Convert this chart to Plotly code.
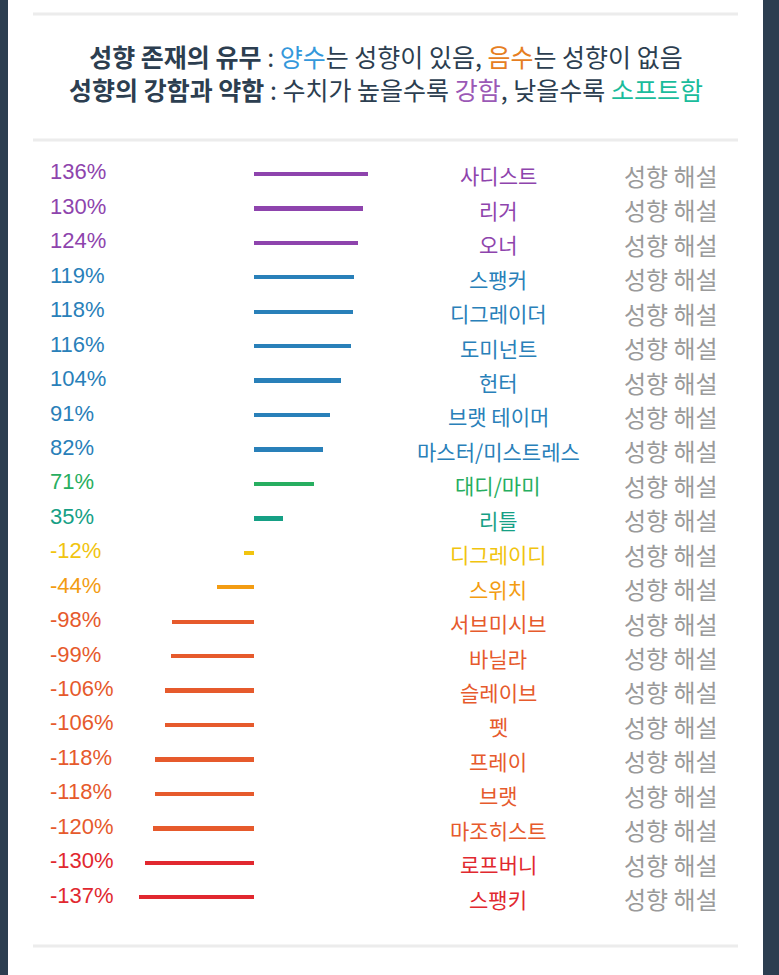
import plotly.graph_objects as go

# ---- data ----
categories = ["사디스트", "리거", "오너", "스팽커", "디그레이더", "도미넌트", "헌터",
              "브랫 테이머", "마스터/미스트레스", "대디/마미", "리틀", "디그레이디", "스위치",
              "서브미시브", "바닐라", "슬레이브", "펫", "프레이", "브랫", "마조히스트",
              "로프버니", "스팽키"]
values = [136, 130, 124, 119, 118, 116, 104, 91, 82, 71, 35, -12, -44,
          -98, -99, -106, -106, -118, -118, -120, -130, -137]
link_label = "성향 해설"

# ---- styles ----
PURPLE = "#8e44ad"; BLUE = "#2980b9"; GREEN = "#27ae60"; TEAL = "#16a085"
YELLOW = "#f1c40f"; ORANGE = "#f39c12"; RORANGE = "#e65a2c"; RED = "#e1282f"
row_colors = [PURPLE] * 3 + [BLUE] * 6 + [GREEN, TEAL, YELLOW, ORANGE] + [RORANGE] * 7 + [RED] * 2

W, H = 779, 975
DARK = "#2c3e50"
KFONT = "Noto Sans CJK KR"

n = len(categories)
ypos = list(range(n))

fig = go.Figure()
fig.add_trace(go.Bar(
    x=values, y=ypos, orientation="h",
    marker=dict(color=row_colors, line=dict(width=0)),
    width=0.125, hoverinfo="skip", showlegend=False,
))

annotations = []
for i, (c, v, col) in enumerate(zip(categories, values, row_colors)):
    annotations.append(dict(
        x=48 / W, xref="paper", y=i - 0.06, yref="y", text=f"{v}%",
        showarrow=False, xanchor="left", yanchor="middle",
        font=dict(family="Liberation Sans, Arial", size=22, color=col)))
    annotations.append(dict(
        x=498 / W, xref="paper", y=i + 0.04, yref="y", text=c,
        showarrow=False, xanchor="center", yanchor="middle",
        font=dict(family=KFONT, size=21, color=col)))
    annotations.append(dict(
        x=671 / W, xref="paper", y=i + 0.04, yref="y", text=link_label,
        showarrow=False, xanchor="center", yanchor="middle",
        font=dict(family=KFONT, size=24, color="#9a9a9a")))

title = ("<b>성향 존재의 유무</b> : <span style='color:#3498db'>양수</span>는 성향이 있음, "
         "<span style='color:#e67e22'>음수</span>는 성향이 없음<br>"
         "<b>성향의 강함과 약함</b> : 수치가 높을수록 <span style='color:#9b59b6'>강함</span>, "
         "낮을수록 <span style='color:#1abc9c'>소프트함</span>")
annotations.append(dict(
    x=386 / W, xref="paper", y=1 - 72 / H, yref="paper", text=title,
    showarrow=False, xanchor="center", yanchor="middle", align="center",
    font=dict(family=KFONT, size=25, color="#2c3e50")))

shapes = [dict(type="rect", xref="paper", yref="paper", x0=8 / W, x1=763 / W, y0=0, y1=1,
               fillcolor="white", line=dict(width=0), layer="below")]
for yp in [14, 140, 946]:
    shapes.append(dict(type="line", xref="paper", yref="paper", x0=33 / W, x1=738 / W,
                       y0=1 - yp / H, y1=1 - yp / H, line=dict(color="#ececec", width=3)))

# axis scaling: zero at 254 px, 0.84 px per percent; row 0 at 174 px, 34.44 px per row
x0px, xscale = 254, 0.84
y0px, ystep = 174, 34.44
fig.update_layout(
    width=W, height=H,
    margin=dict(l=0, r=0, t=0, b=0),
    paper_bgcolor=DARK, plot_bgcolor="rgba(0,0,0,0)",
    xaxis=dict(range=[(0 - x0px) / xscale, (W - x0px) / xscale], visible=False, fixedrange=True),
    yaxis=dict(range=[(H - y0px) / ystep, (0 - y0px) / ystep], visible=False, fixedrange=True),
    annotations=annotations, shapes=shapes, bargap=0,
)
fig.write_html("out.html", config={"displayModeBar": False},
               post_script="document.body.style.margin='0';document.body.style.overflow='hidden';")
